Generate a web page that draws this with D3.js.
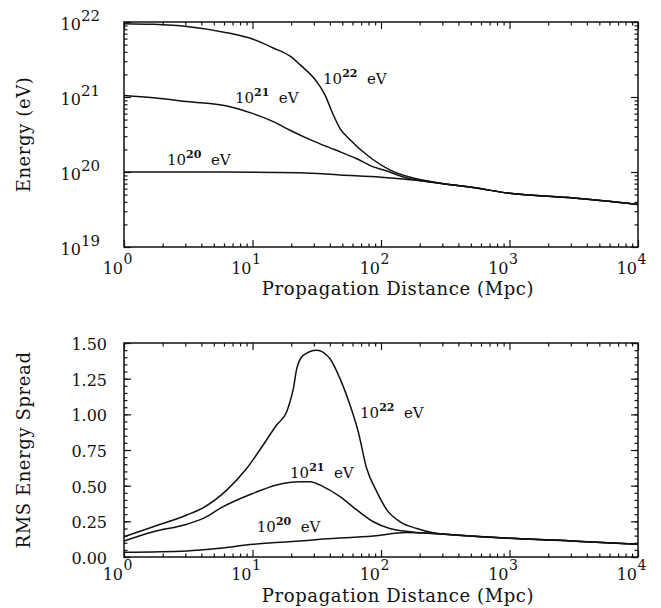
<!DOCTYPE html>
<html>
<head>
<meta charset="utf-8">
<script src="https://cdn.jsdelivr.net/npm/d3@7"></script>
<style>
  body { margin: 0; background: #fff; }
  text { font-family: "DejaVu Serif", serif; fill: #111; }
</style>
</head>
<body>
<svg id="chart" width="661" height="608"></svg>
<script>
// DATA ______________________________________________________________
// Top panel: mean energy (eV) vs propagation distance (Mpc)
const energyDist22 = [1, 1.69, 3.08, 6.3, 10.1, 14.5, 19.6, 23.4, 31.6, 36.6, 42.5, 48, 57.4, 77.4, 117, 178, 288, 523, 1000, 3140, 10000];
const energy22     = [9.5e21, 9.3e21, 8.7e21, 7.2e21, 5.9e21, 4.5e21, 3.5e21, 2.7e21, 1.6e21, 1.07e21, 5.8e20, 3.8e20, 2.7e20, 1.7e20, 1.07e20, 8.3e19, 7.1e19, 6.2e19, 5.2e19, 4.5e19, 3.7e19];

const energyDist21 = [1, 1.69, 3.08, 6.68, 10.1, 14.5, 19.6, 28, 40.1, 48, 64.7, 87.1, 104, 158, 288, 523, 1000, 3140, 10000];
const energy21     = [1.05e21, 9.8e20, 8.7e20, 7.4e20, 6.0e20, 4.7e20, 3.6e20, 2.7e20, 2.1e20, 1.86e20, 1.5e20, 1.17e20, 1.07e20, 8.3e19, 7.1e19, 6.2e19, 5.2e19, 4.5e19, 3.7e19];

const energyDist20 = [1, 5.59, 23.4, 48, 100, 178, 288, 523, 1000, 3140, 10000];
const energy20     = [1.0e20, 1.0e20, 9.8e19, 9.1e19, 8.5e19, 7.8e19, 7.1e19, 6.2e19, 5.2e19, 4.5e19, 3.7e19];

// Bottom panel: RMS energy spread vs propagation distance (Mpc)
const rmsDist22 = [1, 1.69, 3.08, 4.12, 6.3, 9.0, 12.1, 15.4, 18.5, 19.6, 20.8, 22.1, 24.9, 31.6, 40.1, 48, 57.4, 66.5, 77.4, 92.7, 111, 141, 190, 255, 493, 1000, 3000, 10000];
const rms22     = [0.142, 0.212, 0.294, 0.345, 0.469, 0.62, 0.785, 0.925, 1.02, 1.09, 1.18, 1.32, 1.415, 1.45, 1.39, 1.25, 1.065, 0.878, 0.62, 0.458, 0.33, 0.247, 0.20, 0.17, 0.147, 0.131, 0.113, 0.09];

const rmsDist21 = [1, 1.69, 3.08, 4.4, 5.59, 10.1, 15.4, 23.4, 28, 35.5, 48, 64.7, 87.1, 117, 168, 255, 493, 1000, 3000, 10000];
const rms21     = [0.112, 0.177, 0.229, 0.283, 0.341, 0.446, 0.505, 0.528, 0.528, 0.493, 0.423, 0.33, 0.247, 0.20, 0.177, 0.165, 0.147, 0.131, 0.113, 0.09];

const rmsDist20 = [1, 3.08, 5.59, 10.1, 23.4, 35.5, 87.1, 158, 255, 493, 1000, 3000, 10000];
const rms20     = [0.033, 0.042, 0.061, 0.089, 0.112, 0.126, 0.147, 0.172, 0.165, 0.148, 0.131, 0.113, 0.09];

// Axis ticks
const distTicks   = [1, 10, 100, 1000, 10000];
const energyTicks = [1e19, 1e20, 1e21, 1e22];
const rmsTicks    = [0, 0.25, 0.5, 0.75, 1.0, 1.25, 1.5];
const rmsMinor    = d3.range(0, 1.5001, 0.05);

// Curve labels: [exponent, distance, value]
const energyLabels = [["22", 35.4, 1.5e21], ["21", 7.3, 8.3e20], ["20", 2.16, 1.23e20]];
const rmsLabels    = [["22", 68.7, 0.974], ["21", 19.6, 0.554], ["20", 10.8, 0.175]];
//____________________________________________________________________


const svg = d3.select('#chart');
const LEFT = 124, W = 514;
const TOP_PANEL = {top: 22, height: 225, tickY: 27, titleY: 48};
const BOT_PANEL = {top: 343, height: 214, tickY: 23, titleY: 45};

function logMinor(domain) {
    const out = [];
    for (let e = Math.log10(domain[0]); e < Math.log10(domain[1]); e++) {
        for (let m = 2; m <= 9; m++) out.push(m * Math.pow(10, e));
    }
    return out;
}

// ticks pointing inward on all four sides
function drawTicks(g, x, y, xMajor, xMinor, yMajor, yMinor, h) {
    const specs = [
        [d3.axisBottom(x), xMajor, 7, `translate(0,${h})`],
        [d3.axisBottom(x), xMinor, 3.5, `translate(0,${h})`],
        [d3.axisTop(x), xMajor, 7, null],
        [d3.axisTop(x), xMinor, 3.5, null],
        [d3.axisLeft(y), yMajor, 7, null],
        [d3.axisLeft(y), yMinor, 3.5, null],
        [d3.axisRight(y), yMajor, 7, `translate(${W},0)`],
        [d3.axisRight(y), yMinor, 3.5, `translate(${W},0)`]
    ];
    specs.forEach(function(s) {
        const a = g.append('g').attr('transform', s[3])
            .call(s[0].tickValues(s[1]).tickSize(-s[2]).tickFormat(''));
        a.select('.domain').remove();
        a.selectAll('.tick line').attr('stroke', '#111').attr('stroke-width', 1.2);
    });
    g.append('rect').attr('width', W).attr('height', h)
        .attr('fill', 'none').attr('stroke', '#111').attr('stroke-width', 1.5);
}

function xTickLabels(g, x, panel) {
    const base = panel.height + panel.tickY;
    distTicks.forEach(function(t) {
        const px = x(t);
        g.append('text').attr('x', px - 1).attr('y', base)
            .attr('text-anchor', 'end').attr('font-size', 16).text('10');
        g.append('text').attr('x', px - 0.5).attr('y', base - 10)
            .attr('font-size', 14).text(Math.round(Math.log10(t)));
    });
}

function curveLabel(g, x, y, lab) {
    const t = g.append('text').attr('x', x(lab[1])).attr('y', y(lab[2])).attr('font-size', 15);
    t.append('tspan').text('10');
    t.append('tspan').attr('dy', -7).attr('font-size', 11).attr('font-weight', 'bold').text(lab[0]);
    t.append('tspan').attr('dy', 7).text('\u00a0 eV');
}

function drawCurve(g, x, y, dist, vals) {
    const pts = dist.map(function(d, i) { return [d, vals[i]]; });
    g.append('path').datum(pts)
        .attr('fill', 'none').attr('stroke', '#111').attr('stroke-width', 1.5)
        .attr('d', d3.line().x(function(d) { return x(d[0]); }).y(function(d) { return y(d[1]); })
            .curve(d3.curveMonotoneX));
}

function xTitle(g, panel) {
    g.append('text').attr('x', W / 2 + 17).attr('y', panel.height + panel.titleY)
        .attr('text-anchor', 'middle').attr('font-size', 18).attr('letter-spacing', 0.6)
        .text('Propagation Distance (Mpc)');
}

function yTitle(panel, label) {
    svg.append('text').attr('transform', `translate(30,${panel.top + panel.height / 2}) rotate(-90)`)
        .attr('text-anchor', 'middle').attr('font-size', 18).attr('letter-spacing', 0.6).text(label);
}

// TOP PANEL __________________________________________________________
(function() {
    const h = TOP_PANEL.height;
    const g = svg.append('g').attr('transform', `translate(${LEFT},${TOP_PANEL.top})`);
    const x = d3.scaleLog().domain([1, 1e4]).range([0, W]);
    const y = d3.scaleLog().domain([1e19, 1e22]).range([h, 0]);

    drawTicks(g, x, y, distTicks, logMinor([1, 1e4]), energyTicks, logMinor([1e19, 1e22]), h);
    drawCurve(g, x, y, energyDist22, energy22);
    drawCurve(g, x, y, energyDist21, energy21);
    drawCurve(g, x, y, energyDist20, energy20);
    energyLabels.forEach(function(l) { curveLabel(g, x, y, l); });

    energyTicks.forEach(function(t) {
        const txt = g.append('text').attr('x', -24).attr('y', y(t) + 8)
            .attr('text-anchor', 'end').attr('font-size', 16);
        txt.append('tspan').text('10');
        txt.append('tspan').attr('dy', -9).attr('font-size', 15).text(Math.round(Math.log10(t)));
    });
    xTickLabels(g, x, TOP_PANEL);
    xTitle(g, TOP_PANEL);
    yTitle(TOP_PANEL, 'Energy (eV)');
})();

// BOTTOM PANEL _______________________________________________________
(function() {
    const h = BOT_PANEL.height;
    const g = svg.append('g').attr('transform', `translate(${LEFT},${BOT_PANEL.top})`);
    const x = d3.scaleLog().domain([1, 1e4]).range([0, W]);
    const y = d3.scaleLinear().domain([0, 1.5]).range([h, 0]);

    drawTicks(g, x, y, distTicks, logMinor([1, 1e4]), rmsTicks, rmsMinor, h);
    drawCurve(g, x, y, rmsDist22, rms22);
    drawCurve(g, x, y, rmsDist21, rms21);
    drawCurve(g, x, y, rmsDist20, rms20);
    rmsLabels.forEach(function(l) { curveLabel(g, x, y, l); });

    rmsTicks.forEach(function(t) {
        g.append('text').attr('x', -17).attr('y', y(t) + 7)
            .attr('text-anchor', 'end').attr('font-size', 16).text(d3.format('.2f')(t));
    });
    xTickLabels(g, x, BOT_PANEL);
    xTitle(g, BOT_PANEL);
    yTitle(BOT_PANEL, 'RMS Energy Spread');
})();
</script>
</body>
</html>
